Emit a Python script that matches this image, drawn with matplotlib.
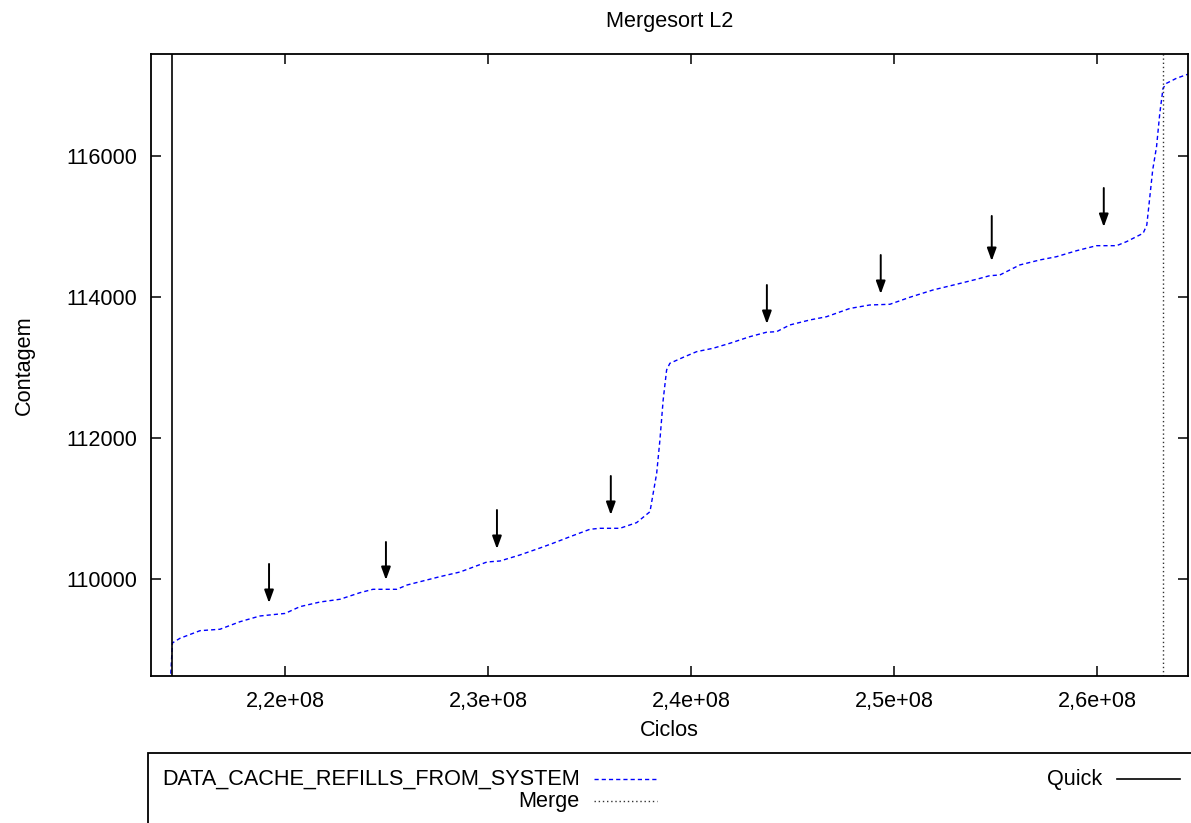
import matplotlib
matplotlib.use("Agg")
import matplotlib.pyplot as plt
from matplotlib.lines import Line2D
from matplotlib.patches import Rectangle
from matplotlib.ticker import FuncFormatter, FixedLocator

FS = 15.6
plt.rcParams["font.family"] = ["Liberation Sans", "DejaVu Sans"]
plt.rcParams["font.size"] = FS

# ── DATA ─────────────────────────────────────────────────────────────────────
# cycles (x) and counter value (y)
cycles = [
    2.1434e8, 2.1444e8, 2.1481e8, 2.1580e8, 2.1678e8, 2.1777e8, 2.1875e8,
    2.1939e8, 2.1999e8, 2.2072e8, 2.2171e8, 2.2270e8, 2.2368e8, 2.2432e8,
    2.2550e8, 2.2600e8, 2.2762e8, 2.2861e8, 2.2994e8, 2.3058e8, 2.3156e8,
    2.3255e8, 2.3319e8, 2.3403e8, 2.3501e8, 2.3550e8, 2.3649e8, 2.3731e8,
    2.3797e8, 2.3830e8, 2.3846e8, 2.3862e8, 2.3879e8, 2.3895e8, 2.3961e8,
    2.4027e8, 2.4108e8, 2.4191e8, 2.4289e8, 2.4371e8, 2.4421e8, 2.4486e8,
    2.4585e8, 2.4667e8, 2.4782e8, 2.4880e8, 2.4979e8, 2.5077e8, 2.5192e8,
    2.5307e8, 2.5406e8, 2.5471e8, 2.5521e8, 2.5570e8, 2.5619e8, 2.5718e8,
    2.5800e8, 2.5899e8, 2.5997e8, 2.6096e8, 2.6145e8, 2.6227e8, 2.6245e8,
    2.6260e8, 2.6274e8, 2.6293e8, 2.6309e8, 2.6325e8, 2.6342e8, 2.6391e8,
    2.6483e8,
]
refills = [
    108560, 109098, 109164, 109272, 109292, 109399, 109480,
    109499, 109516, 109612, 109678, 109717, 109810, 109858,
    109858, 109919, 110037, 110103, 110245, 110259, 110344,
    110443, 110510, 110603, 110708, 110722, 110722, 110802,
    110957, 111501, 111973, 112540, 112965, 113059, 113144,
    113224, 113272, 113343, 113436, 113499, 113507, 113602,
    113673, 113719, 113836, 113885, 113895, 113994, 114098,
    114178, 114249, 114300, 114310, 114381, 114452, 114523,
    114569, 114654, 114725, 114725, 114782, 114901, 115018,
    115419, 115797, 116127, 116600, 116955, 117025, 117096,
    117190,
]

# phase markers
quick_x = 2.1444e8
merge_x = 2.6324e8

# arrows: x position, tail (top) and tip (bottom)
arrow_x = [2.1920e8, 2.2496e8, 2.3043e8, 2.3604e8, 2.4373e8, 2.4934e8, 2.5481e8, 2.6033e8]
arrow_top = [110217, 110528, 110981, 111463, 114168, 114593, 115146, 115542]
arrow_tip = [109664, 109990, 110429, 110911, 113616, 114041, 114508, 114990]

y_ticks = [110000, 112000, 114000, 116000]
x_ticks = [2.2e8, 2.3e8, 2.4e8, 2.5e8, 2.6e8]

# ── PLOT ─────────────────────────────────────────────────────────────────────
fig = plt.figure(figsize=(11.91, 8.23), dpi=100)
ax = fig.add_axes([151 / 1191, 1 - 676 / 823, (1188 - 151) / 1191, (676 - 54) / 823])

ax.plot(cycles, refills, color="#0000ff", lw=1.0, linestyle=(0, (3, 2.2)))
ax.axvline(quick_x, color="black", lw=1.2)
ax.axvline(merge_x, color="#333333", lw=1.0, linestyle=(0, (1, 2)))

for xa, yt, yb in zip(arrow_x, arrow_top, arrow_tip):
    ax.annotate("", xy=(xa, yb), xytext=(xa, yt),
                arrowprops=dict(arrowstyle="-|>,head_length=0.55,head_width=0.2",
                                color="black", lw=1.4, shrinkA=0, shrinkB=0,
                                mutation_scale=14))

ax.set_xlim(2.13384e8, 2.6448e8)
ax.set_ylim(108630, 117440)
ax.xaxis.set_major_locator(FixedLocator(x_ticks))
ax.yaxis.set_major_locator(FixedLocator(y_ticks))
ax.xaxis.set_major_formatter(FuncFormatter(lambda v, p: f"{v:.1e}".replace(".", ",")))
ax.yaxis.set_major_formatter(FuncFormatter(lambda v, p: f"{int(v)}"))
ax.tick_params(direction="in", length=7, width=1.1, top=True, right=True, labelsize=FS)
ax.tick_params(axis="x", pad=11)
ax.tick_params(axis="y", pad=10)
for s in ax.spines.values():
    s.set_linewidth(1.3)

fig.text(669.5 / 1191, 1 - 21 / 823, "Mergesort L2", ha="center", va="center")
fig.text(669.5 / 1191, 1 - 731 / 823, "Ciclos", ha="center", va="center")
fig.text(24 / 1191, 1 - 365 / 823, "Contagem", ha="center", va="center", rotation=90)

# legend box drawn by hand, gnuplot style (runs off the bottom/right edge)
fig.patches.append(Rectangle((148 / 1191, -0.05), 1.1, 1 - 752.7 / 823 + 0.05,
                             transform=fig.transFigure, fill=False, lw=1.3,
                             edgecolor="black"))
fy1 = 1 - 779 / 823
fy2 = 1 - 801 / 823
fig.text(580 / 1191, fy1, "DATA_CACHE_REFILLS_FROM_SYSTEM", ha="right", va="center")
fig.lines.append(Line2D([594 / 1191, 657 / 1191], [fy1, fy1], transform=fig.transFigure,
                        color="#0000ff", lw=1.0, linestyle=(0, (3, 2.2))))
fig.text(580 / 1191, fy2, "Merge", ha="right", va="center")
fig.lines.append(Line2D([594 / 1191, 657 / 1191], [fy2, fy2], transform=fig.transFigure,
                        color="#333333", lw=1.0, linestyle=(0, (1, 2))))
fig.text(1102 / 1191, fy1, "Quick", ha="right", va="center")
fig.lines.append(Line2D([1117 / 1191, 1180 / 1191], [fy1, fy1], transform=fig.transFigure,
                        color="black", lw=1.2))

fig.savefig("out.png", dpi=100)
